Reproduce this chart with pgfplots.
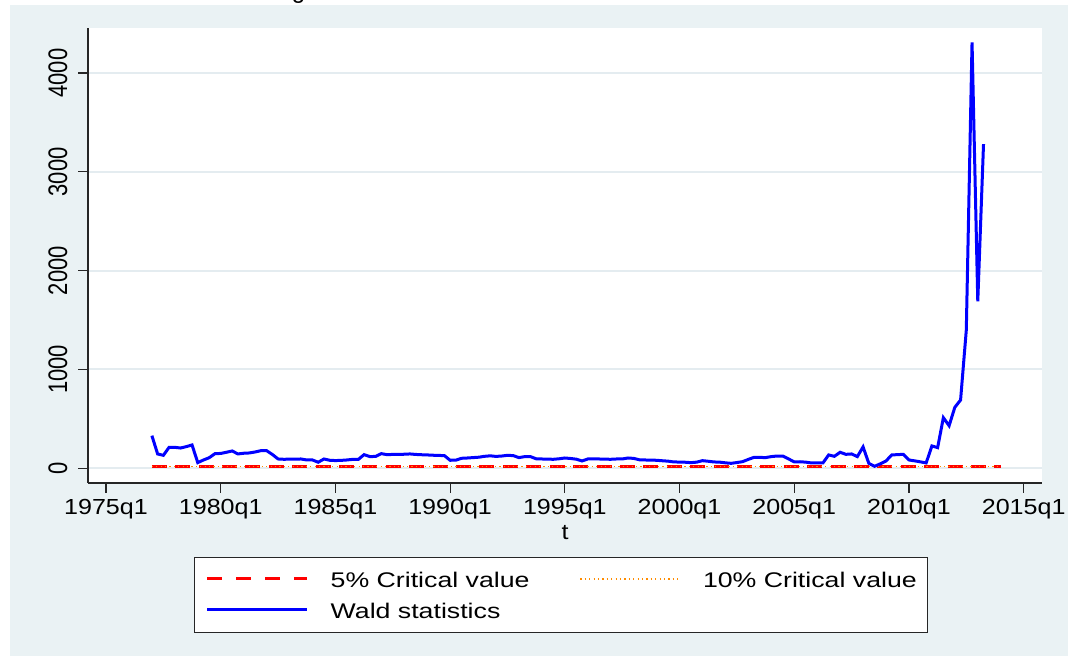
\documentclass[border=0pt]{standalone}
\usepackage{graphicx}
\usepackage{pgfplots}
\pgfplotsset{compat=1.18}
\usepackage{pgfplotstable}
\usepackage{fontspec}
\setmainfont{Liberation Sans}
\newfontfamily\tickfont[FakeStretch=1.15]{Liberation Sans}
\newfontfamily\legfont[FakeStretch=1.26]{Liberation Sans}
\newfontfamily\yfont{Liberation Sans}
\definecolor{bgc}{RGB}{234,242,244}
\definecolor{gridc}{RGB}{228,236,240}
\definecolor{wblue}{RGB}{0,0,255}
\definecolor{cred}{RGB}{255,0,0}
\definecolor{corange}{RGB}{255,140,0}

\pgfplotstableread{
x y
1977.00 330
1977.25 145
1977.50 131
1977.75 212
1978.00 212
1978.25 205
1978.50 219
1978.75 236
1979.00 57
1979.25 84
1979.50 107
1979.75 148
1980.00 150
1980.25 162
1980.50 175
1980.75 145
1981.00 152
1981.25 155
1981.50 165
1981.75 178
1982.00 178
1982.25 140
1982.50 94
1982.75 91
1983.00 92
1983.25 93
1983.50 94
1983.75 84
1984.00 84
1984.25 61
1984.50 94
1984.75 81
1985.00 78
1985.25 80
1985.50 84
1985.75 90
1986.00 90
1986.25 138
1986.50 118
1986.75 120
1987.00 148
1987.25 138
1987.50 140
1987.75 141
1988.00 142
1988.25 145
1988.50 140
1988.75 137
1989.00 135
1989.25 132
1989.50 130
1989.75 128
1990.00 81
1990.25 82
1990.50 101
1990.75 104
1991.00 108
1991.25 112
1991.50 121
1991.75 126
1992.00 120
1992.25 124
1992.50 131
1992.75 128
1993.00 108
1993.25 118
1993.50 118
1993.75 96
1994.00 94
1994.25 92
1994.50 91
1994.75 96
1995.00 104
1995.25 99
1995.50 92
1995.75 74
1996.00 94
1996.25 94
1996.50 94
1996.75 92
1997.00 91
1997.25 94
1997.50 94
1997.75 104
1998.00 100
1998.25 86
1998.50 84
1998.75 82
1999.00 81
1999.25 76
1999.50 72
1999.75 64
2000.00 63
2000.25 61
2000.50 57
2000.75 62
2001.00 77
2001.25 71
2001.50 64
2001.75 62
2002.00 55
2002.25 50
2002.50 58
2002.75 67
2003.00 90
2003.25 111
2003.50 110
2003.75 108
2004.00 118
2004.25 124
2004.50 124
2004.75 95
2005.00 64
2005.25 66
2005.50 62
2005.75 54
2006.00 54
2006.25 54
2006.50 135
2006.75 121
2007.00 162
2007.25 141
2007.50 145
2007.75 118
2008.00 216
2008.25 50
2008.50 20
2008.75 45
2009.00 74
2009.25 135
2009.50 138
2009.75 141
2010.00 84
2010.25 75
2010.50 65
2010.75 54
2011.00 226
2011.25 209
2011.50 512
2011.75 431
2012.00 617
2012.25 691
2012.50 1400
2012.75 4310
2013.00 1690
2013.25 3280
}\waldtab

\begin{document}
\begin{tikzpicture}
\fill[bgc] (-39pt,-86.5pt) rectangle (490pt,239pt);
\begin{scope}
\clip (-39pt,239pt) rectangle (490pt,245pt);
\node[anchor=base, inner sep=0pt, font=\fontsize{12}{14}\selectfont] at (105.25pt,242.3pt) {g};
\end{scope}
\begin{axis}[
  at={(0pt,0pt)}, anchor=south west,
  scale only axis, width=477pt, height=227.5pt,
  xmin=1974.215, xmax=2015.80,
  ymin=-149, ymax=4456,
  axis x line*=bottom, axis y line*=left,
  axis line style={black!85, line width=0.6pt, -},
  axis background/.style={fill=white},
  xtick={1975,1980,...,2015},
  xticklabels={1975q1,1980q1,1985q1,1990q1,1995q1,2000q1,2005q1,2010q1,2015q1},
  ytick={0,1000,2000,3000,4000},
  yticklabels={\scalebox{1}[1.22]{0},\scalebox{1}[1.22]{1000},\scalebox{1}[1.22]{2000},\scalebox{1}[1.22]{3000},\scalebox{1}[1.22]{4000}},
  tick align=outside,
  major tick length=5pt,
  tick style={black!85, line width=0.6pt},
  ymajorgrids, grid style={gridc, line width=1pt},
  xticklabel style={font=\tickfont\fontsize{10.9}{12}\selectfont, anchor=base, inner sep=0pt, yshift=-11pt},
  yticklabel style={font=\yfont\fontsize{11}{12}\selectfont, xshift=-5.5pt, rotate=90, anchor=base, inner sep=0pt},
  xlabel={t},
  xlabel style={font=\tickfont\fontsize{10.9}{12}\selectfont, at={(axis description cs:0.5,0)}, anchor=base, inner sep=0pt, yshift=-28.5pt},
  legend columns=2,
  legend cell align=left,
  legend style={at={(axis description cs:0.1112,0)}, anchor=north west, yshift=-37pt,
    draw=black!85, line width=0.6pt, fill=white, inner xsep=5.5pt, inner ysep=7pt,
    font=\legfont\fontsize{10.6}{12}\selectfont,
    nodes={inner sep=0pt, text height=8pt, text depth=0pt},
    row sep=7.5pt,
    /tikz/every odd column/.append style={column sep=11pt},
    /tikz/every even column/.append style={column sep=25pt}},
]
\addplot[cred, line width=1.5pt, dash pattern=on 7.5pt off 4.2pt,
  legend image code/.code={\draw[cred, line width=1.5pt, dash pattern=on 7.3pt off 7.2pt] (0pt,0.35pt) -- (50pt,0.35pt);}]
  coordinates {(1977,18) (2014,18)};
\addlegendentry{5\% Critical value}
\addplot[corange, line width=0.7pt, dash pattern=on 0.6pt off 1.6pt,
  legend image code/.code={\draw[corange, line width=0.7pt, dash pattern=on 0.6pt off 1.6pt] (0pt,0.35pt) -- (50pt,0.35pt);}]
  coordinates {(1977,16) (2014,16)};
\addlegendentry{10\% Critical value}
\addplot[wblue, line width=1.5pt,
  legend image code/.code={\draw[wblue, line width=1.5pt] (0pt,0.35pt) -- (50pt,0.35pt);}]
  table[x=x, y=y] {\waldtab};
\addlegendentry{Wald statistics}
\end{axis}
\pgfresetboundingbox
\path[use as bounding box] (-44pt,-86.5pt) rectangle (490pt,241.5pt);
\end{tikzpicture}
\end{document}
